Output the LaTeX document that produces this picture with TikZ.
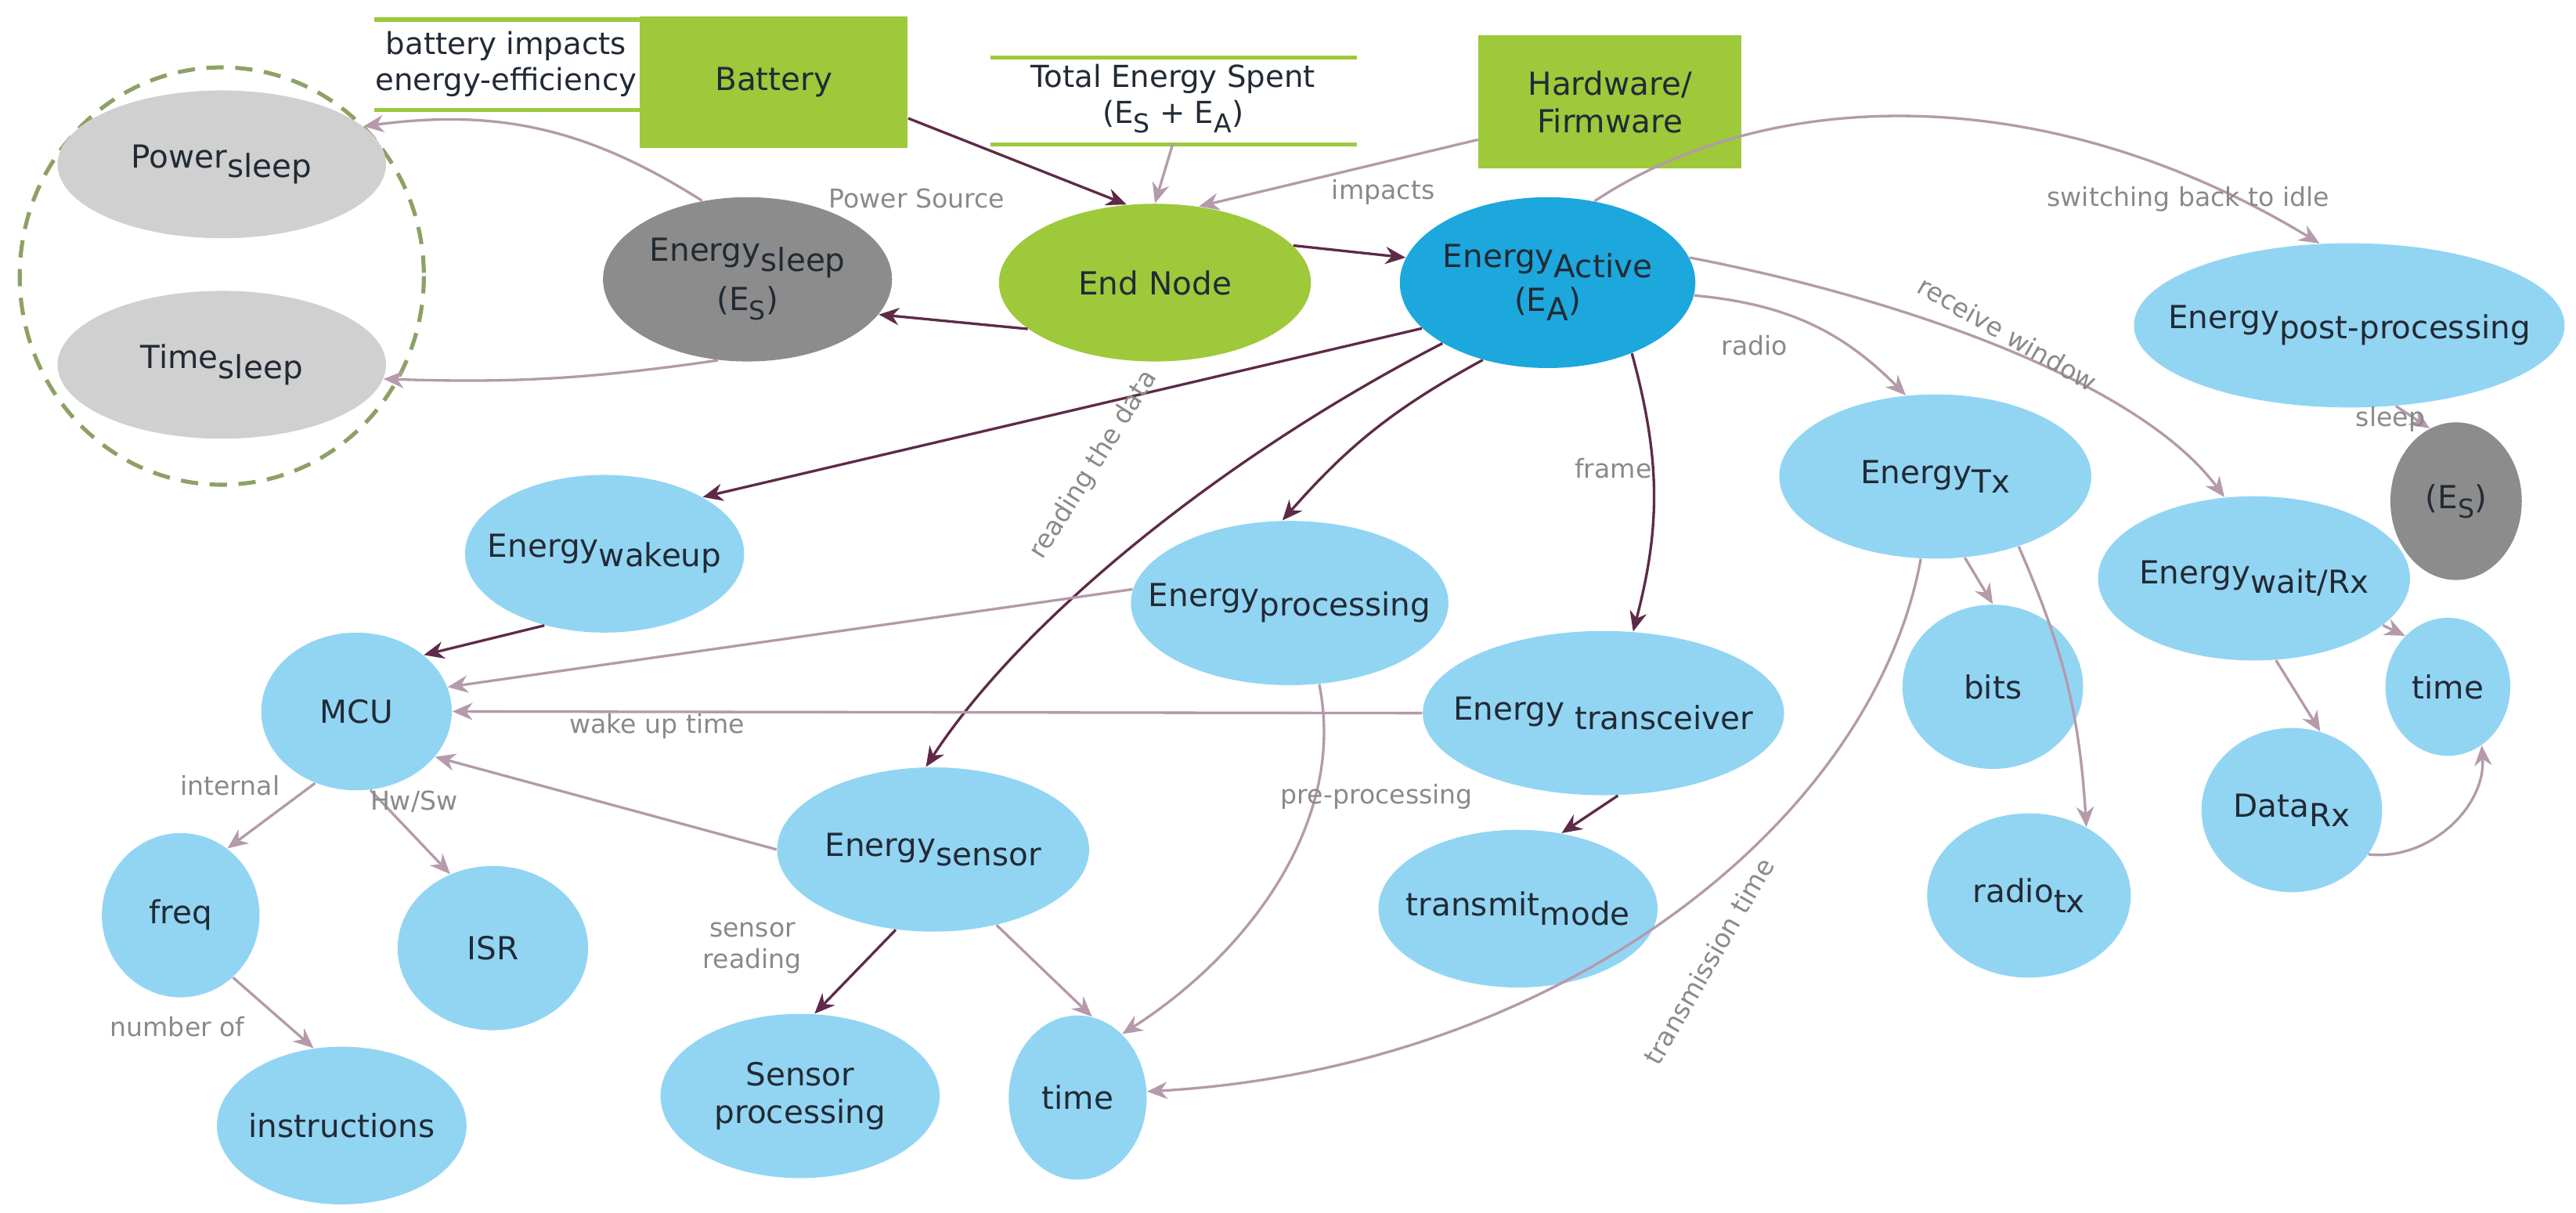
\documentclass[tikz,border=0pt]{standalone}
\usepackage{fontspec}
\setmainfont{DejaVu Sans}
\usetikzlibrary{arrows.meta,shapes.geometric}
\newcommand\lowr[1]{\raisebox{-0.55ex}{#1}}
\definecolor{lb}{HTML}{92D5F3}
\definecolor{db}{HTML}{1CA7DD}
\definecolor{gr}{HTML}{9DC93B}
\definecolor{lg}{HTML}{D0D0D0}
\definecolor{dg}{HTML}{8C8C8C}
\definecolor{dk}{HTML}{5E2A48}
\definecolor{lt}{HTML}{B49AAB}
\definecolor{tx}{HTML}{222A35}
\definecolor{lbl}{HTML}{8A8A8A}
\begin{document}
\begin{tikzpicture}[x=0.02cm,y=-0.02cm,
  e/.style={ellipse,fill=lb,draw=none,inner xsep=-10pt,inner ysep=-4pt,text=tx,font=\fontsize{11}{13}\selectfont,align=center},
  el/.style args={#1/#2}{e,minimum width=#1*0.04cm,minimum height=#2*0.04cm},
  box/.style={fill=gr,text=tx,font=\fontsize{11}{13}\selectfont,align=center,inner sep=0pt},
  dkA/.style={draw=dk,line width=0.9pt,-{Stealth[length=7pt,width=6pt]}},
  ltA/.style={draw=lt,line width=0.9pt,-{Stealth[length=7pt,width=6pt]}},
  lab/.style={text=lbl,font=\fontsize{9}{11}\selectfont,align=center},
  gl/.style={draw=gr,line width=1.5pt}]
\useasboundingbox (0,0) rectangle (1568,738);
% dashed group
\draw[draw=gr!60!black!70,dashed,line width=1.4pt,dash pattern=on 6pt off 4pt] (135,168) ellipse [x radius=123,y radius=127];
\node[el=100/45,fill=lg] (ps) at (135,100) {Power\lowr{sleep}};
\node[el=100/45,fill=lg] (ts) at (135,222) {Time\lowr{sleep}};
\node[el=88/50,fill=dg] (es) at (455,170) {Energy\lowr{sleep}\\[2pt](E\lowr{\small S})};
\node[el=95/48,fill=gr] (end) at (703,172) {End Node};
\node[box,minimum width=163*0.02cm,minimum height=80*0.02cm] (bat) at (471,50) {Battery};
\node[box,minimum width=160*0.02cm,minimum height=81*0.02cm] (hw) at (980,62) {Hardware/\\Firmware};
\node[text=tx,font=\fontsize{10.5}{12.5}\selectfont,align=center] (bie) at (308,39) {battery impacts\\energy-efficiency};
\draw[gl] (228,12) -- (390,12); \draw[gl] (228,67) -- (390,67);
\node[text=tx,font=\fontsize{10.5}{12.5}\selectfont,align=center] (tot) at (714,60) {Total Energy Spent\\(E\lowr{\small S} + E\lowr{\small A})};
\draw[gl] (603,35) -- (826,35); \draw[gl] (603,88) -- (826,88);
\node[el=90/52,fill=db] (ea) at (942,172) {Energy\lowr{Active}\\[2pt](E\lowr{A})};
\node[el=130/50] (epp) at (1430,198) {Energy\lowr{post-processing}};
\node[el=40/48,fill=dg] (es2) at (1495,305) {(E\lowr{\small S})};
\node[el=95/50] (etx) at (1178,290) {Energy\lowr{Tx}};
\node[el=95/50] (ewr) at (1372,352) {Energy\lowr{wait/Rx}};
\node[el=38/42] (tr) at (1490,418) {time};
\node[el=55/50] (bits) at (1213,418) {bits};
\node[el=55/50] (drx) at (1395,493) {Data\lowr{Rx}};
\node[el=62/50] (rtx) at (1235,545) {radio\lowr{tx}};
\node[el=85/48] (ew) at (368,337) {Energy\lowr{wakeup}};
\node[el=95/50] (ep) at (785,367) {Energy\lowr{processing}};
\node[el=110/50] (et) at (976,434) {Energy \lowr{transceiver}};
\node[el=58/48] (mcu) at (217,433) {MCU};
\node[el=48/50] (freq) at (110,557) {freq};
\node[el=58/50] (isr) at (300,577) {ISR};
\node[el=76/48] (ins) at (208,685) {instructions};
\node[el=95/50] (esn) at (568,517) {Energy\lowr{sensor}};
\node[el=85/50] (sp) at (487,667) {Sensor\\processing};
\node[el=42/50] (tb) at (656,668) {time};
\node[el=85/48] (tm) at (924,553) {transmit\lowr{mode}};
% edges
\draw[dkA] (bat.east|-0,72) -- (end.110);
\draw[ltA] (tot.south) -- (end.90);
\draw[ltA] (hw.west|-0,85) -- (end.60);
\node[lab] at (558,121) {Power Source};
\node[lab] at (842,117) {impacts};
\draw[dkA] (end.200) -- (es.-15);
\draw[dkA] (end.15) -- (ea.170);
\draw[ltA] (es.120) to[bend right=20] (ps.15);
\draw[ltA] (es.-110) to[bend left=5] (ts.-5);
\draw[ltA] (ea.60) .. controls (1080,50) and (1250,50) .. (epp.110);
\node[lab] at (1332,121) {switching back to idle};
\draw[ltA] (epp.-60) -- (es2.110);
\node[lab] at (1455,255) {sleep};
\draw[ltA] (ea.-5) to[bend left=20] (etx.110);
\node[lab] at (1068,210) {radio};
\draw[ltA] (ea.10) .. controls (1150,180) and (1300,230) .. (ewr.110);
\node[lab,rotate=-30] at (1222,203) {receive window};
\draw[dkA] (ea.200) -- (ew.30);
\draw[dkA] (ea.-130) to[bend right=10] (ep.95);
\draw[dkA] (ea.-150) .. controls (740,280) and (620,380) .. (esn.95);
\node[lab,rotate=58] at (666,283) {reading the data};
\draw[dkA] (ea.-40) to[bend left=15] (et.70);
\node[lab] at (982,285) {frame};
\draw[ltA] (etx.-70) -- (bits.90);
\draw[ltA] (etx.-40) to[bend left=10] (rtx.50);
\draw[ltA] (etx.-100) .. controls (1140,500) and (950,650) .. (tb.5);
\node[lab,rotate=60] at (1040,585) {transmission time};
\draw[ltA] (ewr.-20) -- (tr.130);
\draw[ltA] (ewr.-75) -- (drx.70);
\draw[ltA] (drx.-30) to[bend right=50] (tr.-60);
\draw[dkA] (ew.-130) -- (mcu.40);
\draw[ltA] (ep.175) -- (mcu.15);
\draw[ltA] (et.180) -- (mcu.0);
\node[lab] at (400,442) {wake up time};
\draw[ltA] (esn.180) -- (mcu.-30);
\draw[ltA] (ep.-70) .. controls (820,500) and (760,580) .. (tb.55);
\node[lab] at (838,485) {pre-processing};
\draw[dkA] (esn.-115) -- (sp.80);
\node[lab] at (458,577) {sensor\\reading};
\draw[ltA] (esn.-50) -- (tb.80);
\draw[dkA] (et.-80) -- (tm.60);
\draw[ltA] (mcu.-120) -- (freq.55);
\node[lab] at (140,478) {internal};
\draw[ltA] (mcu.-80) -- (isr.120);
\node[lab] at (252,488) {Hw/Sw};
\draw[ltA] (freq.-50) -- (ins.110);
\node[lab] at (108,625) {number of};
\end{tikzpicture}
\end{document}
